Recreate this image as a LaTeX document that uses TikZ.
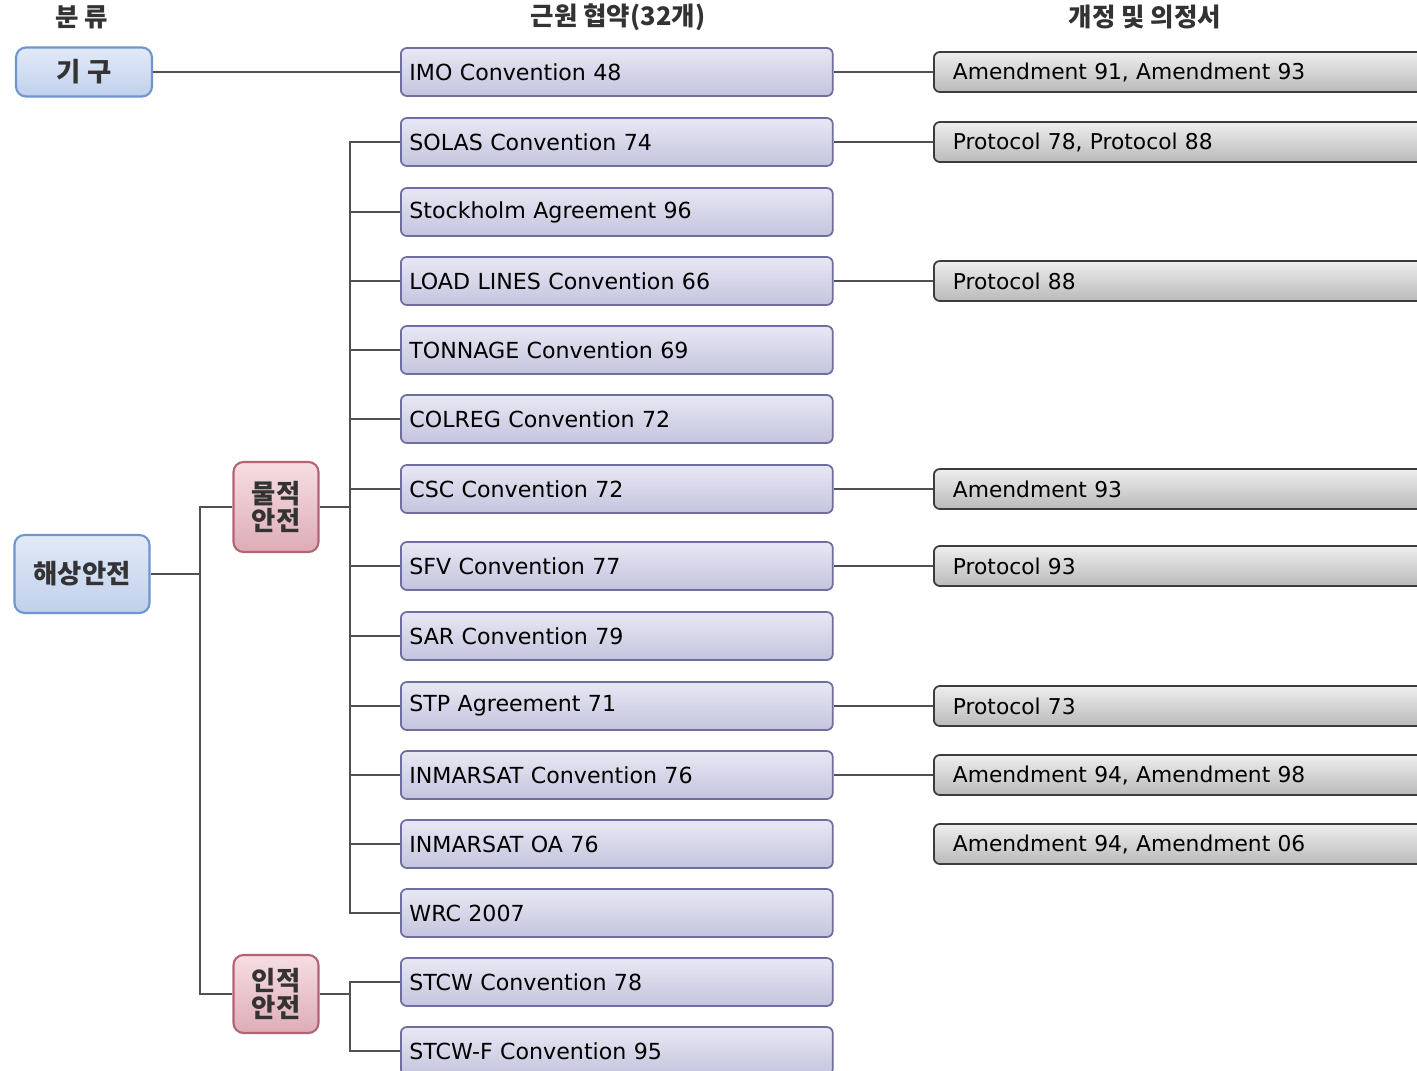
\documentclass[tikz,border=0pt]{standalone}
\usepackage{fontspec}
\newfontfamily\boxfont{DejaVu Sans}
\newfontfamily\kfont{Noto Sans CJK KR}

\definecolor{blueTop}{RGB}{226,234,248}
\definecolor{blueBot}{RGB}{192,208,236}
\definecolor{blueLine}{RGB}{110,150,205}
\definecolor{pinkTop}{RGB}{246,222,226}
\definecolor{pinkBot}{RGB}{222,172,182}
\definecolor{pinkLine}{RGB}{176,100,116}
\definecolor{lavTop}{RGB}{232,232,244}
\definecolor{lavBot}{RGB}{196,196,222}
\definecolor{lavLine}{RGB}{110,110,160}
\definecolor{grayTop}{RGB}{238,238,238}
\definecolor{grayBot}{RGB}{186,186,186}
\definecolor{grayLine}{RGB}{60,60,60}
\definecolor{wireCol}{RGB}{80,80,80}

\tikzset{
	head/.style={font=\kfont\bfseries\fontsize{14.5}{14}\selectfont, text=black!80},
	groupbox/.style={draw=blueLine, line width=1.2pt, rounded corners=0.2cm, top color=blueTop, bottom color=blueBot,
		font=\kfont\bfseries\fontsize{15}{12}\selectfont, text=black!80},
	subbox/.style={draw=pinkLine, line width=1.2pt, rounded corners=0.2cm, top color=pinkTop, bottom color=pinkBot,
		minimum width=1.7cm, align=center, font=\kfont\bfseries\fontsize{15}{12}\selectfont, text=black!80},
	convbox/.style={draw=lavLine, line width=1pt, rounded corners=0.12cm, top color=lavTop, bottom color=lavBot,
		anchor=west, minimum height=0.96cm, text width=8.3cm, inner xsep=0.17cm, align=left,
		font=\boxfont\fontsize{12.6}{12}\selectfont},
	protbox/.style={draw=grayLine, line width=1pt, rounded corners=0.12cm, top color=grayTop, bottom color=grayBot,
		anchor=west, minimum height=0.8cm, text width=11cm, inner xsep=0.38cm, align=left,
		font=\boxfont\fontsize{12.4}{12}\selectfont},
	wire/.style={draw=wireCol, line width=1.1pt}
}

\begin{document}
\begin{tikzpicture}[x=0.02cm, y=-0.02cm]
	\clip (0,0) rectangle (1417,1071);		% page
	\fill[white] (0,0) rectangle (1417,1071);
	
	% column heads
	\node[head] (hClass) at (82,17) {분 류};
	\node[head] (hConv) at (618,17) {근원 협약(32개)};
	\node[head] (hProt) at (1145,17) {개정 및 의정서};
	
	% classes
	\node[groupbox, minimum width=2.72cm, minimum height=0.98cm] (kigu) at (84,72) {기 구};
	\node[groupbox, minimum width=2.7cm, minimum height=1.56cm] (haesang) at (82,574) {해상안전};
	\node[subbox, minimum height=1.8cm] (muljeok) at (276,507) {물적\\안전};
	\node[subbox, minimum height=1.56cm] (injeok) at (276,994) {인적\\안전};
	
	% conventions
	\node[convbox] (imo) at (400,72) {IMO Convention 48};
	\node[convbox] (solas) at (400,142) {SOLAS Convention 74};
	\node[convbox] (stockholm) at (400,212) {Stockholm Agreement 96};
	\node[convbox] (loadlines) at (400,281) {LOAD LINES Convention 66};
	\node[convbox] (tonnage) at (400,350) {TONNAGE Convention 69};
	\node[convbox] (colreg) at (400,419) {COLREG Convention 72};
	\node[convbox] (csc) at (400,489) {CSC Convention 72};
	\node[convbox] (sfv) at (400,566) {SFV Convention 77};
	\node[convbox] (sar) at (400,636) {SAR Convention 79};
	\node[convbox] (stp) at (400,706) {STP Agreement 71};
	\node[convbox] (inmarsat) at (400,775) {INMARSAT Convention 76};
	\node[convbox] (inmarsatoa) at (400,844) {INMARSAT OA 76};
	\node[convbox] (wrc) at (400,913) {WRC 2007};
	\node[convbox] (stcw) at (400,982) {STCW Convention 78};
	\node[convbox] (stcwf) at (400,1051) {STCW-F Convention 95};
	
	% amendments and protocols
	\node[protbox] (imoAmd) at (933,72) {Amendment 91, Amendment 93};
	\node[protbox] (solasProt) at (933,142) {Protocol 78, Protocol 88};
	\node[protbox] (loadProt) at (933,281) {Protocol 88};
	\node[protbox] (cscAmd) at (933,489) {Amendment 93};
	\node[protbox] (sfvProt) at (933,566) {Protocol 93};
	\node[protbox] (stpProt) at (933,706) {Protocol 73};
	\node[protbox] (inmAmd) at (933,775) {Amendment 94, Amendment 98};
	\node[protbox] (inmOaAmd) at (933,844) {Amendment 94, Amendment 06};
	
	% bus points
	\coordinate (busA) at (200,574);
	\coordinate (busB) at (350,507);
	\coordinate (busC) at (350,994);
	
	% tree
	\draw[wire] (kigu) -- (imo);
	\draw[wire] (haesang) -- (busA);
	\draw[wire] (muljeok.west) -| (busA) |- (injeok.west);
	\draw[wire] (muljeok) -- (busB);
	\draw[wire] (solas.west) -| (busB) |- (wrc.west);
	\draw[wire] (stockholm.west) -- (stockholm.west -| busB);
	\draw[wire] (loadlines.west) -- (loadlines.west -| busB);
	\draw[wire] (tonnage.west) -- (tonnage.west -| busB);
	\draw[wire] (colreg.west) -- (colreg.west -| busB);
	\draw[wire] (csc.west) -- (csc.west -| busB);
	\draw[wire] (sfv.west) -- (sfv.west -| busB);
	\draw[wire] (sar.west) -- (sar.west -| busB);
	\draw[wire] (stp.west) -- (stp.west -| busB);
	\draw[wire] (inmarsat.west) -- (inmarsat.west -| busB);
	\draw[wire] (inmarsatoa.west) -- (inmarsatoa.west -| busB);
	\draw[wire] (injeok) -- (busC);
	\draw[wire] (stcw.west) -| (busC) |- (stcwf.west);
	
	% right links
	\draw[wire] (imo.east) -- (imoAmd.west);
	\draw[wire] (solas.east) -- (solasProt.west);
	\draw[wire] (loadlines.east) -- (loadProt.west);
	\draw[wire] (csc.east) -- (cscAmd.west);
	\draw[wire] (sfv.east) -- (sfvProt.west);
	\draw[wire] (stp.east) -- (stpProt.west);
	\draw[wire] (inmarsat.east) -- (inmAmd.west);
\end{tikzpicture}
\end{document}
